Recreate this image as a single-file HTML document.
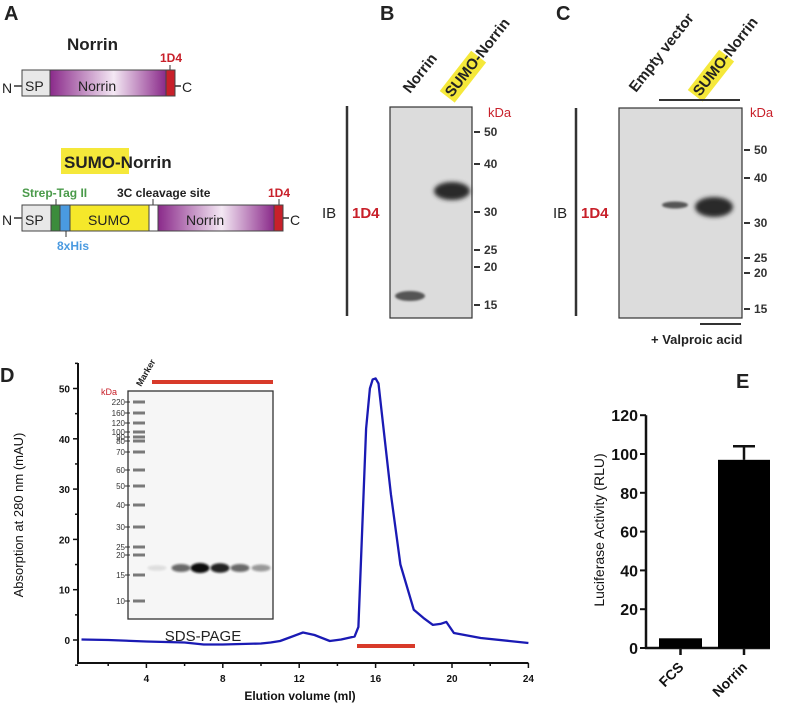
<!DOCTYPE html>
<html><head><meta charset="utf-8"><style>
body{margin:0;background:#fff}
svg{display:block;font-family:"Liberation Sans",Arial,sans-serif}
</style></head><body>
<svg id="fig" width="789" height="713" viewBox="0 0 789 713">
<defs>
<linearGradient id="ng" x1="0" x2="1"><stop offset="0" stop-color="#8a2a8a"/><stop offset="0.55" stop-color="#f4e8f4"/><stop offset="1" stop-color="#8a2a8a"/></linearGradient>
<filter id="bl" x="-50%" y="-50%" width="200%" height="200%"><feGaussianBlur stdDeviation="2"/></filter>
<filter id="bl1" x="-50%" y="-50%" width="200%" height="200%"><feGaussianBlur stdDeviation="1"/></filter>
</defs>
<!-- Panel A -->
<g font-size="13">
<text x="4" y="20" font-size="20" font-weight="bold" fill="#222">A</text>
<text x="67" y="50" font-size="17" font-weight="bold" fill="#222">Norrin</text>
<text x="160" y="62" font-size="12" font-weight="bold" fill="#c8202a">1D4</text>
<line x1="170" y1="65" x2="170" y2="70" stroke="#333"/>
<text x="2" y="93" fill="#222" font-size="14">N</text><line x1="14" y1="86" x2="22" y2="86" stroke="#333" stroke-width="1.5"/>
<rect x="22" y="70" width="28" height="26" fill="#e8e8e8" stroke="#444"/><text x="25" y="91" font-size="14" fill="#222">SP</text>
<rect x="50" y="70" width="116" height="26" fill="url(#ng)" stroke="#444"/><text x="78" y="91" font-size="14" fill="#222">Norrin</text>
<rect x="166" y="70" width="9" height="26" fill="#c8202a" stroke="#444"/>
<line x1="175" y1="86" x2="181" y2="86" stroke="#333" stroke-width="1.5"/><text x="182" y="92" font-size="14" fill="#222">C</text>
<rect x="61" y="148" width="68" height="26" fill="#f5e83a"/>
<text x="64" y="168" font-size="17" font-weight="bold" fill="#222">SUMO-Norrin</text>
<text x="22" y="197" font-size="12" font-weight="bold" fill="#4a9a4a">Strep-Tag II</text>
<text x="117" y="197" font-size="12" font-weight="bold" fill="#222">3C cleavage site</text>
<text x="268" y="197" font-size="12" font-weight="bold" fill="#c8202a">1D4</text>
<line x1="56" y1="199" x2="56" y2="205" stroke="#333"/><line x1="153" y1="199" x2="153" y2="205" stroke="#333"/><line x1="279" y1="199" x2="279" y2="205" stroke="#333"/>
<text x="2" y="225" fill="#222" font-size="14">N</text><line x1="14" y1="218" x2="22" y2="218" stroke="#333" stroke-width="1.5"/>
<rect x="22" y="205" width="29" height="26" fill="#e8e8e8" stroke="#444"/><text x="25" y="225" font-size="14" fill="#222">SP</text>
<rect x="51" y="205" width="9" height="26" fill="#3c8c3c" stroke="#444"/>
<rect x="60" y="205" width="10" height="26" fill="#4a9ae0" stroke="#444"/>
<rect x="70" y="205" width="79" height="26" fill="#f5e82a" stroke="#444"/><text x="88" y="225" font-size="14" fill="#222">SUMO</text>
<rect x="149" y="205" width="9" height="26" fill="#fff" stroke="#444"/>
<rect x="158" y="205" width="116" height="26" fill="url(#ng)" stroke="#444"/><text x="186" y="225" font-size="14" fill="#222">Norrin</text>
<rect x="274" y="205" width="9" height="26" fill="#c8202a" stroke="#444"/>
<line x1="283" y1="218" x2="289" y2="218" stroke="#333" stroke-width="1.5"/><text x="290" y="225" font-size="14" fill="#222">C</text>
<line x1="66" y1="231" x2="66" y2="237" stroke="#333"/>
<text x="57" y="250" font-size="12" font-weight="bold" fill="#4a9ae0">8xHis</text>
</g>
<!-- Panel B -->
<g>
<text x="380" y="20" font-size="20" font-weight="bold" fill="#222">B</text>
<text transform="translate(410,94) rotate(-52)" font-size="15" font-weight="bold" fill="#222">Norrin</text>
<g transform="translate(452,98) rotate(-52)"><rect x="-2" y="-14" width="51" height="19" fill="#f5e83a"/><text font-size="15" font-weight="bold" fill="#222">SUMO-Norrin</text></g>
<line x1="347" y1="106" x2="347" y2="316" stroke="#333" stroke-width="2.5"/>
<text x="322" y="218" font-size="15" fill="#222">IB</text><text x="352" y="218" font-size="15" font-weight="bold" fill="#c8202a">1D4</text>
<rect x="390" y="107" width="82" height="211" fill="#dcdcdc" stroke="#333" stroke-width="1.2"/>
<ellipse cx="410" cy="296" rx="15" ry="5" fill="#555" filter="url(#bl1)"/>
<ellipse cx="452" cy="191" rx="18" ry="9" fill="#2a2a2a" filter="url(#bl)"/>
<text x="488" y="117" font-size="13" fill="#c8202a">kDa</text>
<g font-size="12" font-weight="bold" fill="#333" id="bTicks"></g>
</g>
<!-- Panel C -->
<g>
<text x="556" y="20" font-size="20" font-weight="bold" fill="#222">C</text>
<text transform="translate(636,93) rotate(-52)" font-size="15" font-weight="bold" fill="#222">Empty vector</text>
<g transform="translate(700,97) rotate(-52)"><rect x="-2" y="-14" width="51" height="19" fill="#f5e83a"/><text font-size="15" font-weight="bold" fill="#222">SUMO-Norrin</text></g>
<line x1="659" y1="100" x2="740" y2="100" stroke="#333" stroke-width="2"/>
<line x1="576" y1="108" x2="576" y2="316" stroke="#333" stroke-width="2.5"/>
<text x="553" y="218" font-size="15" fill="#222">IB</text><text x="581" y="218" font-size="15" font-weight="bold" fill="#c8202a">1D4</text>
<rect x="619" y="108" width="123" height="210" fill="#dcdcdc" stroke="#333" stroke-width="1.2"/>
<ellipse cx="675" cy="205" rx="13" ry="3.5" fill="#555" filter="url(#bl1)"/>
<ellipse cx="714" cy="207" rx="19" ry="10" fill="#2a2a2a" filter="url(#bl)"/>
<text x="750" y="117" font-size="13" fill="#c8202a">kDa</text>
<g font-size="12" font-weight="bold" fill="#333" id="cTicks"></g>
<line x1="700" y1="324" x2="741" y2="324" stroke="#333" stroke-width="2"/>
<text x="651" y="344" font-size="13" font-weight="bold" fill="#222">+ Valproic acid</text>
</g>
<!-- Panel D -->
<g>
<text x="0" y="382" font-size="20" font-weight="bold" fill="#222">D</text>
<g id="dAxes"></g>
<path id="dCurve" fill="none" stroke="#1a1ab4" stroke-width="2.3" stroke-linejoin="round"/>
<line x1="357" y1="646" x2="415" y2="646" stroke="#d83a2a" stroke-width="4"/>
<text transform="translate(23,515) rotate(-90)" text-anchor="middle" font-size="13" fill="#111">Absorption at 280 nm (mAU)</text>
<text x="300" y="700" text-anchor="middle" font-size="12" font-weight="bold" fill="#111">Elution volume (ml)</text>
<g>
<rect x="128" y="391" width="145" height="228" fill="#f6f6f6" stroke="#333" stroke-width="1.3"/>
<line x1="152" y1="382" x2="273" y2="382" stroke="#d83a2a" stroke-width="4"/>
<text transform="translate(141,387) rotate(-60)" font-size="9" font-weight="bold" fill="#222">Marker</text>
<text x="101" y="395" font-size="9" fill="#c8202a">kDa</text>
<g id="ladder" font-size="8" fill="#333"></g>
<g id="lanes"></g>
<text x="203" y="641" text-anchor="middle" font-size="15" fill="#222">SDS-PAGE</text>
</g>
</g>
<!-- Panel E -->
<g>
<text x="736" y="388" font-size="20" font-weight="bold" fill="#222">E</text>
<g id="eChart"></g>
<text transform="translate(604,530) rotate(-90)" text-anchor="middle" font-size="14" fill="#111">Luciferase Activity (RLU)</text>
</g>
</svg>
<script>
const NS='http://www.w3.org/2000/svg';
function mk(p,tag,a){const e=document.createElementNS(NS,tag);for(const k in a)e.setAttribute(k,a[k]);p.appendChild(e);return e;}
const bKda=[50,40,30,25,20,15];
const bY=[132,164,212,250,267,305];
const cY=[150,178,223,258,273,309];
function blotTicks(id,x0,ys){const g=document.getElementById(id);bKda.forEach((k,i)=>{const l=mk(g,'line',{x1:x0,y1:ys[i],x2:x0+6,y2:ys[i],stroke:'#333','stroke-width':2});


const t=mk(g,'text',{x:x0+10,y:ys[i]+4});t.textContent=k;

});}
blotTicks('bTicks',474,bY);blotTicks('cTicks',744,cY);

const elutionVol=[0.6,2,4,6,7,8,10,10.5,11,11.5,12.2,12.8,13.6,14.2,14.9,15.1,15.3,15.5,15.7,15.85,16,16.15,16.3,16.8,17.3,18,18.5,19,19.4,19.7,20.1,21.5,23,24];
const absorb=[0.1,0,-0.3,-0.5,-0.9,-0.9,-0.7,-0.5,-0.2,0.5,1.5,1,-0.2,0.1,0.7,2.6,22,42,50,51.8,52,51,46,29,15,6,4.4,3,3.2,3.6,1.4,0.4,-0.2,-0.6];
const dXTicks=[4,8,12,16,20,24];
const dYTicks=[0,10,20,30,40,50];
const dx=v=>70+v*19.1, dy=v=>640-v*5.03;
(function(){const g=document.getElementById('dAxes');
mk(g,'line',{x1:78,y1:363,x2:78,y2:664,stroke:'#111','stroke-width':2});
mk(g,'line',{x1:77,y1:663,x2:dx(24),y2:663,stroke:'#111','stroke-width':2});
for(let v=2;v<=24;v+=2)mk(g,'line',{x1:dx(v),y1:663,x2:dx(v),y2:v%4?666:668,stroke:'#111','stroke-width':1.5});
dXTicks.forEach(v=>{const t=mk(g,'text',{x:dx(v),y:682,'text-anchor':'middle','font-size':10,'font-weight':'bold',fill:'#111'});t.textContent=v;

});
for(let v=-5;v<=55;v+=5)mk(g,'line',{x1:78,y1:dy(v),x2:v%10?75:73,y2:dy(v),stroke:'#111','stroke-width':1.5});
dYTicks.forEach(v=>{const t=mk(g,'text',{x:70,y:dy(v)+4,'text-anchor':'end','font-size':10,'font-weight':'bold',fill:'#111'});t.textContent=v;

});
let d='';elutionVol.forEach((v,i)=>{d+=(i?'L':'M')+dx(v).toFixed(1)+','+dy(absorb[i]).toFixed(1);});
document.getElementById('dCurve').setAttribute('d',d);})();

const ladderKda=[220,160,120,100,90,80,70,60,50,40,30,25,20,15,10];
const ladderY=[402,413,423,432,437,441,452,470,486,505,527,547,555,575,601];
const laneX=[157,181,200,220,240,261];
const laneIntensity=[0.1,0.6,1,0.9,0.6,0.4];
(function(){const g=document.getElementById('ladder');
ladderKda.forEach((k,i)=>{const t=mk(g,'text',{x:125,y:ladderY[i]+3,'text-anchor':'end'});t.textContent=k;


mk(g,'line',{x1:125,y1:ladderY[i],x2:130,y2:ladderY[i],stroke:'#333'});
const b=mk(g,'rect',{x:133,y:ladderY[i]-1.5,width:12,height:3,fill:'#444',opacity:0.7});

});
const L=document.getElementById('lanes');
laneX.forEach((x,i)=>{const e=mk(L,'ellipse',{cx:x,cy:568,rx:9.5,ry:2.5+2.5*laneIntensity[i],fill:'#111',opacity:laneIntensity[i],filter:'url(#bl1)'});

});})();

const eCats=['FCS','Norrin'];
const eVals=[5,97];
const eErr=[0,7];
const eYTicks=[0,20,40,60,80,100,120];
const ey=v=>648-v*1.94;
const barX=[659,718], barW=[43,52];
(function(){const g=document.getElementById('eChart');
mk(g,'line',{x1:646,y1:ey(0),x2:646,y2:ey(120),stroke:'#111','stroke-width':2.5});
mk(g,'line',{x1:645,y1:ey(0),x2:770,y2:ey(0),stroke:'#111','stroke-width':2.5});
eYTicks.forEach(v=>{mk(g,'line',{x1:640,y1:ey(v),x2:646,y2:ey(v),stroke:'#111','stroke-width':2});
const t=mk(g,'text',{x:638,y:ey(v)+6,'text-anchor':'end','font-size':16,'font-weight':'bold',fill:'#111'});t.textContent=v;

});
eCats.forEach((c,i)=>{const cx=barX[i]+barW[i]/2;
if(eErr[i]){mk(g,'line',{x1:cx,y1:ey(eVals[i]),x2:cx,y2:ey(eVals[i]+eErr[i]),stroke:'#111','stroke-width':2.5});
mk(g,'line',{x1:cx-11,y1:ey(eVals[i]+eErr[i]),x2:cx+11,y2:ey(eVals[i]+eErr[i]),stroke:'#111','stroke-width':2.5});}
const r=mk(g,'rect',{x:barX[i],y:ey(eVals[i]),width:barW[i],height:ey(0)-ey(eVals[i]),fill:'#000'});


mk(g,'line',{x1:cx,y1:ey(0),x2:cx,y2:ey(0)+7,stroke:'#111','stroke-width':2.5});
const t=mk(g,'text',{transform:`translate(${cx+4},${ey(0)+20}) rotate(-45)`,'text-anchor':'end','font-size':14,'font-weight':'bold',fill:'#111'});t.textContent=c;

});})();
</script>
</body></html>
